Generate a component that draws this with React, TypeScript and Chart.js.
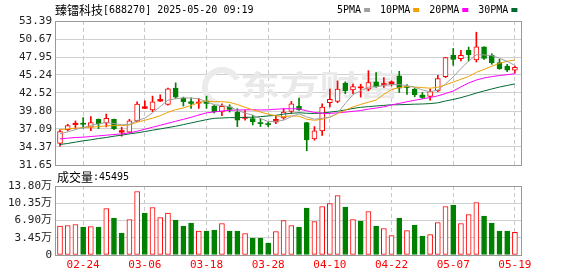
import React, { useEffect, useRef } from 'react';
import { Chart, registerables } from 'chart.js';

Chart.register(...registerables);

const stockName = '臻镭科技';
const stockCode = '688270';
const timestamp = '2025-05-20 09:19';
const volumeTitle = '成交量';
const lastVolume = 45495;

const dates = [
  '02-19', '02-20', '02-21', '02-24', '02-25', '02-26', '02-27', '02-28', '03-03', '03-04',
  '03-05', '03-06', '03-07', '03-10', '03-11', '03-12', '03-13', '03-14', '03-17', '03-18',
  '03-19', '03-20', '03-21', '03-24', '03-25', '03-26', '03-27', '03-28', '03-31', '04-01',
  '04-02', '04-03', '04-07', '04-08', '04-09', '04-10', '04-11', '04-14', '04-15', '04-16',
  '04-17', '04-18', '04-21', '04-22', '04-23', '04-24', '04-25', '04-28', '04-29', '04-30',
  '05-06', '05-07', '05-08', '05-09', '05-12', '05-13', '05-14', '05-15', '05-16', '05-19',
];

const opens = [
  34.9, 37.0, 37.75, 37.9, 37.35, 38.55, 38.0, 38.55, 36.6, 36.6,
  38.3, 40.2, 39.95, 41.3, 40.8, 43.25, 41.7, 41.2, 41.0, 41.25,
  40.55, 39.65, 40.4, 39.65, 38.7, 38.65, 38.0, 37.8, 38.15, 38.75,
  39.75, 40.55, 38.05, 35.6, 36.8, 41.05, 41.25, 44.0, 43.0, 43.3,
  43.1, 44.2, 43.8, 43.85, 45.1, 43.45, 43.1, 42.2, 42.0, 42.85,
  45.0, 48.25, 47.7, 48.95, 47.5, 49.5, 48.2, 47.1, 46.6, 45.95,
];
const highs = [
  37.0, 37.8, 38.3, 38.8, 38.95, 38.6, 39.35, 38.6, 37.35, 38.55,
  41.2, 41.35, 42.05, 42.25, 43.25, 44.05, 41.9, 41.8, 41.7, 42.05,
  40.65, 40.9, 40.75, 40.15, 39.9, 39.15, 38.65, 38.15, 39.15, 40.15,
  41.25, 41.75, 38.1, 37.45, 40.9, 43.1, 44.35, 44.2, 43.85, 43.85,
  45.9, 45.6, 44.85, 44.35, 45.8, 43.8, 43.2, 42.6, 43.1, 45.2,
  47.9, 49.25, 48.95, 49.45, 51.7, 49.5, 48.45, 47.6, 46.85, 46.6,
];
const lows = [
  34.5, 36.8, 37.1, 37.2, 36.85, 37.15, 37.4, 37.0, 36.0, 36.5,
  38.2, 40.15, 39.7, 41.25, 40.7, 41.7, 40.55, 40.2, 40.2, 40.2,
  39.5, 39.1, 39.65, 37.45, 38.4, 37.7, 37.45, 37.45, 37.9, 38.55,
  39.4, 39.9, 33.8, 35.4, 36.1, 40.4, 41.05, 42.4, 42.4, 41.9,
  42.85, 43.35, 43.35, 43.6, 42.6, 42.3, 41.95, 41.7, 41.45, 42.7,
  44.85, 46.7, 47.35, 47.35, 47.2, 47.6, 46.85, 46.1, 45.75, 45.5,
];
const closes = [
  36.7, 37.6, 37.95, 37.8, 38.05, 37.85, 38.7, 37.15, 36.85, 38.3,
  40.85, 40.45, 41.2, 41.55, 43.15, 41.9, 41.2, 40.95, 41.05, 40.95,
  39.65, 40.5, 40.05, 38.4, 38.8, 38.2, 37.9, 37.75, 38.55, 39.65,
  40.9, 40.0, 35.45, 36.8, 40.4, 41.55, 43.1, 42.85, 43.5, 43.4,
  44.1, 43.45, 43.9, 44.2, 43.25, 43.35, 42.25, 41.85, 42.75, 44.7,
  47.85, 47.6, 48.2, 48.3, 49.5, 47.75, 47.1, 46.2, 45.95, 46.4,
];
// volume in 万 (10k)
const volumes = [
  5.8, 5.9, 6.1, 5.6, 5.7, 5.6, 9.3, 7.4, 4.4, 7.1,
  12.7, 8.4, 9.5, 7.5, 8.4, 7.0, 5.8, 6.4, 4.8, 4.8,
  5.0, 6.3, 4.8, 4.8, 4.3, 3.4, 3.4, 2.4, 4.7, 6.9,
  5.9, 5.6, 9.4, 6.7, 9.7, 10.3, 11.9, 9.6, 7.1, 6.8,
  8.7, 5.8, 5.3, 3.9, 7.4, 4.9, 6.0, 3.8, 4.1, 6.5,
  9.7, 10.0, 6.3, 8.1, 10.5, 7.8, 6.4, 4.8, 4.8, 4.5495,
];

const ma5 = [
  36.35, 36.65, 37.0, 37.3, 37.64, 37.85, 38.07, 37.91, 37.72, 37.77,
  38.37, 38.72, 39.53, 40.47, 41.44, 41.65, 41.8, 41.75, 41.65, 41.21,
  40.76, 40.62, 40.44, 39.91, 39.48, 39.19, 38.67, 38.21, 38.24, 38.41,
  38.95, 39.37, 38.91, 38.56, 38.71, 38.84, 39.46, 40.94, 42.28, 42.88,
  43.39, 43.46, 43.67, 43.81, 43.78, 43.63, 43.39, 42.98, 42.69, 42.98,
  43.88, 44.95, 46.22, 47.33, 48.29, 48.27, 48.17, 47.77, 47.3, 46.68,
];
const ma10 = [
  37.0, 37.1, 37.2, 37.3, 37.35, 37.45, 37.55, 37.6, 37.6, 37.71,
  38.11, 38.4, 38.72, 39.1, 39.61, 40.01, 40.26, 40.64, 41.06, 41.33,
  41.21, 41.21, 41.1, 40.78, 40.35, 39.98, 39.65, 39.33, 39.08, 38.95,
  39.07, 39.02, 38.56, 38.4, 38.56, 38.9, 39.42, 39.93, 40.42, 40.8,
  41.12, 41.46, 42.31, 43.05, 43.33, 43.51, 43.43, 43.33, 43.25, 43.38,
  43.76, 44.17, 44.6, 45.01, 45.64, 46.08, 46.56, 47.0, 47.32, 47.49,
];
const ma20 = [
  35.6, 35.7, 35.8, 35.85, 35.95, 36.05, 36.15, 36.25, 36.35, 36.5,
  36.75, 37.05, 37.35, 37.65, 37.95, 38.25, 38.55, 38.85, 39.2, 39.52,
  39.66, 39.8, 39.91, 39.94, 39.98, 39.99, 39.95, 39.98, 40.07, 40.14,
  40.14, 40.12, 39.83, 39.59, 39.45, 39.44, 39.53, 39.63, 39.75, 39.87,
  40.09, 40.24, 40.43, 40.72, 40.95, 41.2, 41.42, 41.63, 41.84, 42.09,
  42.44, 42.82, 43.45, 44.03, 44.48, 44.79, 44.99, 45.16, 45.28, 45.43,
];
const ma30 = [
  34.75, 34.9, 35.1, 35.3, 35.45, 35.65, 35.8, 36.0, 36.15, 36.35,
  36.5, 36.7, 36.9, 37.1, 37.3, 37.5, 37.75, 38.0, 38.25, 38.5,
  38.7, 38.75, 38.8, 38.8, 38.85, 38.85, 38.95, 39.05, 39.15, 39.33,
  39.46, 39.54, 39.46, 39.43, 39.5, 39.63, 39.77, 39.96, 40.19, 40.36,
  40.46, 40.56, 40.65, 40.74, 40.75, 40.79, 40.83, 40.86, 40.92, 41.04,
  41.31, 41.55, 41.82, 42.15, 42.51, 42.83, 43.13, 43.42, 43.66, 43.89,
];

const priceTicks = [31.65, 34.37, 37.09, 39.8, 42.52, 45.24, 47.95, 50.67, 53.39];
const volumeTicks = [0, 3.45, 6.9, 10.35, 13.8];
const xTickIndices = [3, 11, 19, 27, 35, 43, 51, 59];
const maLabels = ['5PMA', '10PMA', '20PMA', '30PMA'];
const maColors = ['#a0a0a0', '#f0a000', '#ff00ff', '#006a33'];

const RED = '#ff0000';
const GREEN = '#008000';
const GRID = '#d0d0d0';
const FRAME = '#999999';
const MONO = '"DejaVu Sans Mono", "Noto Sans CJK SC", monospace';
const CJK = '"Noto Sans CJK SC", sans-serif';
const X_MIN = -0.65;
const X_MAX = 59.92;

const candleUp = (i: number) => closes[i] >= opens[i];
const volumeUp = (i: number) => (i === 0 ? candleUp(0) : closes[i] >= closes[i - 1]);

const framePlugin = {
  id: 'frame',
  afterDraw(chart: any) {
    const { ctx, chartArea: a } = chart;
    ctx.save();
    ctx.strokeStyle = FRAME;
    ctx.lineWidth = 1;
    ctx.strokeRect(Math.round(a.left) + 0.5, Math.round(a.top) + 0.5, Math.round(a.right - a.left) - 1, Math.round(a.bottom - a.top));
    ctx.restore();
  },
};

const watermarkPlugin = {
  id: 'watermark',
  beforeDatasetsDraw(chart: any) {
    const { ctx } = chart;
    ctx.save();
    ctx.strokeStyle = '#ebebeb';
    ctx.lineWidth = 6;
    ctx.beginPath();
    ctx.arc(222, 87, 17, Math.PI * 0.55, Math.PI * 1.85);
    ctx.stroke();
    ctx.fillStyle = '#e9e9e9';
    ctx.font = `bold 28px ${CJK}`;
    ctx.textBaseline = 'alphabetic';
    ctx.translate(240, 96);
    ctx.scale(1.42, 1);
    ctx.fillText('东方财富', 0, 0);
    ctx.restore();
  },
};

const headerPlugin = {
  id: 'header',
  afterDraw(chart: any) {
    const { ctx } = chart;
    ctx.save();
    ctx.textBaseline = 'middle';
    ctx.fillStyle = '#000';
    let x = 55;
    ctx.font = `12px ${CJK}`;
    ctx.fillText(stockName, x, 10);
    x += ctx.measureText(stockName).width;
    ctx.font = `10px ${MONO}`;
    ctx.fillText(`[${stockCode}] ${timestamp}`, x, 10);
    let lx = 337;
    maLabels.forEach((label, k) => {
      ctx.fillStyle = '#000';
      ctx.fillText(label, lx, 10);
      lx += ctx.measureText(label).width + 3;
      ctx.fillStyle = maColors[k];
      ctx.fillRect(lx, 8, 6, 4);
      lx += 6 + 10;
    });
    ctx.restore();
  },
};

const volumeTitlePlugin = {
  id: 'volTitle',
  afterDraw(chart: any) {
    const { ctx } = chart;
    ctx.save();
    ctx.textBaseline = 'middle';
    ctx.fillStyle = '#000';
    ctx.font = `12px ${CJK}`;
    ctx.fillText(volumeTitle, 57, 7);
    const w = ctx.measureText(volumeTitle).width;
    ctx.font = `10px ${MONO}`;
    ctx.fillText(`:${lastVolume}`, 57 + w, 7);
    ctx.restore();
  },
};

const xScale = (showLabels: boolean) => ({
  type: 'linear',
  min: X_MIN,
  max: X_MAX,
  offset: false,
  afterBuildTicks: (s: any) => {
    s.ticks = xTickIndices.map((v) => ({ value: v }));
  },
  ticks: {
    display: showLabels,
    autoSkip: false,
    maxRotation: 0,
    padding: 4,
    color: RED,
    font: { family: MONO, size: 11 },
    callback: (v: any) => dates[Number(v)] ?? '',
  },
  grid: { color: '#c8c8c8', drawTicks: false, offset: false },
  border: { display: false, dash: [4, 3] },
  afterFit: (s: any) => {
    s.height = showLabels ? 21 : 0;
  },
});

export default function App() {
  const priceRef = useRef<HTMLCanvasElement>(null);
  const volRef = useRef<HTMLCanvasElement>(null);

  useEffect(() => {
    const bodyColor = (i: number) => (candleUp(i) ? RED : GREEN);
    const priceChart = new Chart(priceRef.current as HTMLCanvasElement, {
      type: 'bar',
      data: {
        datasets: [
          ...[ma5, ma10, ma20, ma30].map((arr, k) => ({
            type: 'line' as const,
            data: arr.map((v, i) => ({ x: i, y: v })),
            borderColor: maColors[k],
            borderWidth: 1,
            pointRadius: 0,
            tension: 0,
            fill: false,
            order: 0,
          })),
          {
            type: 'bar' as const,
            data: opens.map((o, i) => ({ x: i, y: [o, closes[i]] })),
            barThickness: 5,
            grouped: false,
            minBarLength: 1,
            borderSkipped: false,
            borderWidth: (c: any) => (Math.abs(closes[c.dataIndex] - opens[c.dataIndex]) < 0.4 ? 0 : 1),
            borderColor: (c: any) => bodyColor(c.dataIndex),
            backgroundColor: (c: any) => {
              const i = c.dataIndex;
              if (!candleUp(i)) return GREEN;
              return Math.abs(closes[i] - opens[i]) < 0.4 ? RED : '#ffffff';
            },
            order: 1,
          },
          {
            type: 'bar' as const,
            data: lows.map((l, i) => ({ x: i, y: [l, highs[i]] })),
            barThickness: 1,
            grouped: false,
            borderWidth: 0,
            backgroundColor: (c: any) => bodyColor(c.dataIndex),
            order: 2,
          },
        ],
      },
      options: {
        responsive: false,
        animation: false,
        layout: { padding: { left: 0, right: 56, top: 21, bottom: 11 } },
        plugins: { legend: { display: false }, tooltip: { enabled: false } },
        scales: {
          x: xScale(false) as any,
          y: {
            min: 31.65,
            max: 53.39,
            afterBuildTicks: (s: any) => {
              s.ticks = priceTicks.map((v) => ({ value: v }));
            },
            ticks: {
              color: '#222',
              padding: 3,
              font: { family: MONO, size: 11 },
              callback: (v: any) => Number(v).toFixed(2),
            },
            grid: { color: GRID, drawTicks: false },
            border: { display: false },
            afterFit: (s: any) => {
              s.width = 55;
            },
          },
        },
      },
      plugins: [watermarkPlugin, framePlugin, headerPlugin],
    } as any);

    const volChart = new Chart(volRef.current as HTMLCanvasElement, {
      type: 'bar',
      data: {
        datasets: [
          {
            data: volumes.map((v, i) => ({ x: i, y: v })),
            barThickness: 5,
            borderWidth: 1,
            borderSkipped: false,
            borderColor: (c: any) => (volumeUp(c.dataIndex) ? RED : GREEN),
            backgroundColor: (c: any) => (volumeUp(c.dataIndex) ? '#ffffff' : GREEN),
          },
        ],
      },
      options: {
        responsive: false,
        animation: false,
        layout: { padding: { left: 0, right: 56, top: 16, bottom: 0 } },
        plugins: { legend: { display: false }, tooltip: { enabled: false } },
        scales: {
          x: xScale(true) as any,
          y: {
            min: 0,
            max: 13.8,
            afterBuildTicks: (s: any) => {
              s.ticks = volumeTicks.map((v) => ({ value: v }));
            },
            ticks: {
              color: '#222',
              padding: 3,
              font: { family: MONO, size: 11 },
              callback: (v: any) => (Number(v) === 0 ? '0' : Number(v).toFixed(2) + '万'),
            },
            grid: { color: GRID, drawTicks: false },
            border: { display: false },
            afterFit: (s: any) => {
              s.width = 55;
            },
          },
        },
      },
      plugins: [framePlugin, volumeTitlePlugin],
    } as any);

    return () => {
      priceChart.destroy();
      volChart.destroy();
    };
  }, []);

  return (
    <div style={{ position: 'absolute', left: 0, top: 0, width: 578, height: 276, background: '#fff' }}>
      <canvas ref={priceRef} width={578} height={176} style={{ position: 'absolute', left: 0, top: 0, width: 578, height: 176 }} />
      <canvas ref={volRef} width={578} height={106} style={{ position: 'absolute', left: 0, top: 170, width: 578, height: 106 }} />
    </div>
  );
}
